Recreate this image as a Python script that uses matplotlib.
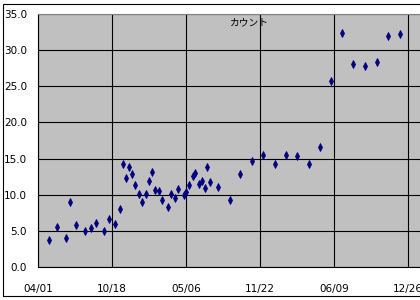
import matplotlib.pyplot as plt
import matplotlib.dates as mdates
from matplotlib.patches import Rectangle
import pandas as pd

# data ---------------------------------------------------------------
dates = ["2002-05-02", "2002-05-21", "2002-06-15", "2002-06-27", "2002-07-14",
         "2002-08-07", "2002-08-21", "2002-09-06", "2002-09-26", "2002-10-11",
         "2002-10-26", "2002-11-09", "2002-11-18", "2002-11-26", "2002-12-02",
         "2002-12-11", "2002-12-20", "2002-12-29", "2003-01-08", "2003-01-19",
         "2003-01-27", "2003-02-04", "2003-02-11", "2003-02-23", "2003-03-03",
         "2003-03-17", "2003-03-27", "2003-04-07", "2003-04-15", "2003-05-01",
         "2003-05-07", "2003-05-15", "2003-05-26", "2003-05-31", "2003-06-11",
         "2003-06-19", "2003-06-25", "2003-07-03", "2003-07-11", "2003-08-01",
         "2003-09-01", "2003-09-30", "2003-10-30", "2003-12-01", "2004-01-02",
         "2004-02-01", "2004-03-02", "2004-04-02", "2004-05-03", "2004-06-02",
         "2004-07-01", "2004-07-31", "2004-09-02", "2004-10-03", "2004-11-03",
         "2004-12-03"]
counts = [3.8, 5.5, 4.0, 9.0, 5.8, 5.0, 5.4, 6.1, 5.0, 6.7,
          5.9, 8.0, 14.3, 12.3, 13.9, 12.8, 11.3, 10.1, 9.0, 10.1,
          11.9, 13.2, 10.7, 10.5, 9.3, 8.3, 10.1, 9.5, 10.8, 9.9,
          10.4, 11.3, 12.6, 13.0, 11.5, 11.9, 10.9, 13.9, 11.8, 11.1,
          9.2, 12.9, 14.6, 15.5, 14.3, 15.5, 15.4, 14.3, 16.6, 25.7,
          32.4, 28.1, 27.8, 28.3, 31.9, 32.2]
series_name = "カウント"
x_ticks = pd.date_range("2002-04-01", periods=6, freq="200D")
y_ticks = [0, 5, 10, 15, 20, 25, 30, 35]

# figure ---------------------------------------------------------------
fig = plt.figure(figsize=(4.2, 3.0), dpi=100)
ax = fig.add_axes([38/420, 33/300, 390/420, 253/300])
ax.set_facecolor("#c0c0c0")

ax.plot(pd.to_datetime(dates), counts, "d", color="#000080",
        markersize=4.2, markeredgewidth=0.6, markeredgecolor="#000080")

ax.set_xlim(x_ticks[0], x_ticks[0] + pd.Timedelta(days=1054))
ax.set_ylim(0, 35)
ax.set_xticks(x_ticks)
ax.xaxis.set_major_formatter(mdates.DateFormatter("%m/%d"))
ax.set_yticks(y_ticks)
ax.set_yticklabels(["%.1f" % v for v in y_ticks])

ax.grid(True, color="black", linewidth=0.8)
ax.set_axisbelow(True)
ax.tick_params(axis="y", length=0, pad=8, labelsize=7.5)
ax.tick_params(axis="x", length=0, pad=12, labelsize=7.5)

ax.spines["left"].set_color("black")
ax.spines["bottom"].set_color("black")
ax.spines["top"].set_color("#808080")
ax.spines["right"].set_visible(False)
for s in ["left", "bottom", "top"]:
    ax.spines[s].set_linewidth(0.8)

fig.text(249/420, 1 - 22/300, series_name, ha="center", va="center",
         fontsize=7, family=["Noto Sans CJK JP", "DejaVu Sans"])

# chart area border
fig.add_artist(Rectangle((3/420, 4/300), 1.0, 292/300, transform=fig.transFigure,
                         fill=False, edgecolor="black", linewidth=0.8))

fig.savefig("out.png", dpi=100)
